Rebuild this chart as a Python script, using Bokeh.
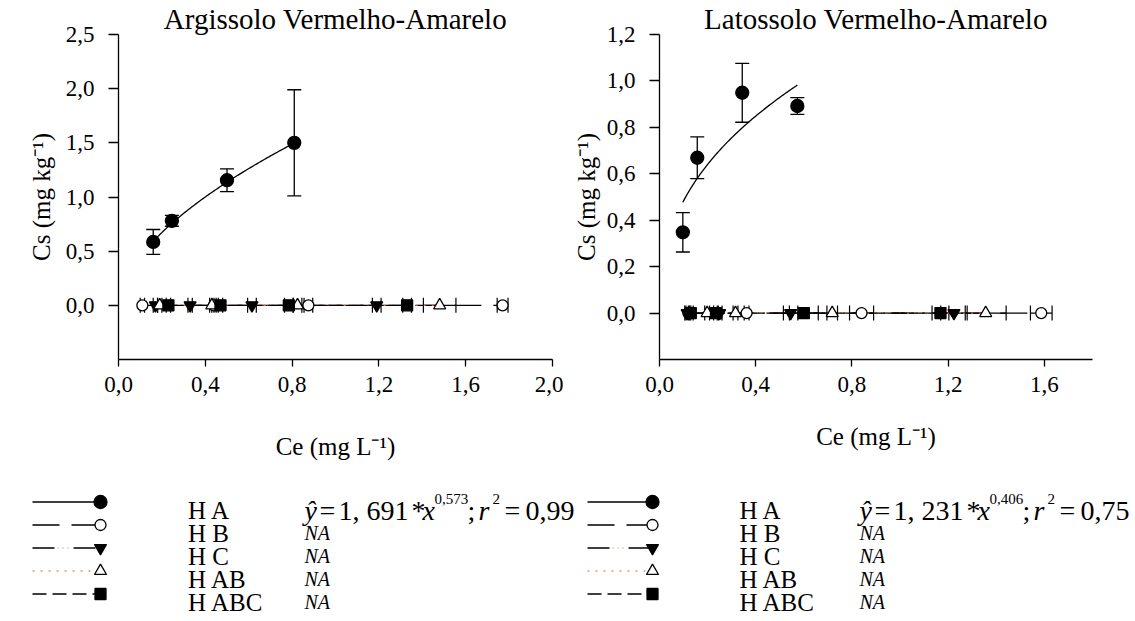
import numpy as np
from bokeh.plotting import figure
from bokeh.layouts import column, row
from bokeh.models import ColumnDataSource, Whisker, TeeHead, Range1d, FixedTicker, CustomJSTickFormatter
from bokeh.core.properties import value
from bokeh.embed import file_html
from bokeh.resources import INLINE

# ---------------- data ----------------
series_names = ["H A", "H B", "H C", "H AB", "H ABC"]
soil_titles = ["Argissolo Vermelho-Amarelo", "Latossolo Vermelho-Amarelo"]

# Argissolo Vermelho-Amarelo
arg_ha_ce = [0.16, 0.246, 0.50, 0.81]
arg_ha_cs = [0.585, 0.78, 1.155, 1.50]
arg_ha_err = [0.115, 0.05, 0.105, 0.49]
arg_hb_ce = [0.11, 0.44, 0.875, 1.77]
arg_hb_cs = [0.0, 0.0, 0.0, 0.0]
arg_hb_xerr = [0.01, 0.01, 0.02, 0.025]
arg_hc_ce = [0.17, 0.33, 0.615, 1.19]
arg_hc_cs = [0.0, 0.0, 0.0, 0.0]
arg_hc_xerr = [0.01, 0.01, 0.02, 0.02]
arg_hab_ce = [0.19, 0.43, 0.825, 1.48]
arg_hab_cs = [0.0, 0.0, 0.0, 0.0]
arg_hab_xerr = [0.01, 0.01, 0.02, 0.075]
arg_habc_ce = [0.23, 0.47, 0.785, 1.33]
arg_habc_cs = [0.0, 0.0, 0.0, 0.0]
arg_habc_xerr = [0.01, 0.01, 0.02, 0.02]
arg_fit_a, arg_fit_b = 1.691, 0.573

# Latossolo Vermelho-Amarelo
lat_ha_ce = [0.097, 0.157, 0.344, 0.573]
lat_ha_cs = [0.348, 0.669, 0.949, 0.892]
lat_ha_err = [0.085, 0.09, 0.127, 0.036]
lat_hb_ce = [0.12, 0.362, 0.84, 1.587]
lat_hb_cs = [0.0, 0.0, 0.0, 0.0]
lat_hb_xerr = [0.01, 0.01, 0.05, 0.045]
lat_hc_ce = [0.115, 0.25, 0.545, 1.224]
lat_hc_cs = [0.0, 0.0, 0.0, 0.0]
lat_hc_xerr = [0.01, 0.01, 0.03, 0.055]
lat_hab_ce = [0.198, 0.316, 0.718, 1.356]
lat_hab_cs = [0.0, 0.0, 0.0, 0.0]
lat_hab_xerr = [0.01, 0.01, 0.022, 0.085]
lat_habc_ce = [0.13, 0.235, 0.60, 1.168]
lat_habc_cs = [0.0, 0.0, 0.0, 0.0]
lat_habc_xerr = [0.01, 0.01, 0.06, 0.035]
lat_fit_a, lat_fit_b = 1.231, 0.406

arg_x_ticks = [0.0, 0.4, 0.8, 1.2, 1.6, 2.0]
arg_y_ticks = [0.0, 0.5, 1.0, 1.5, 2.0, 2.5]
lat_x_ticks = [0.0, 0.4, 0.8, 1.2, 1.6]
lat_y_ticks = [0.0, 0.2, 0.4, 0.6, 0.8, 1.0, 1.2]

eq_texts = [
    ["1, 691", "0,573", "0,99"],
    ["1, 231", "0,406", "0,75"],
]

# ---------------- styles ----------------
FONT = "Liberation Serif"
RED = "#e2603f"
STYLES = {
    "H A":   dict(marker="circle", fill="black", size=13, dash="solid"),
    "H B":   dict(marker="circle", fill="white", size=11, dash="27 12"),
    "H C":   dict(marker="inverted_triangle", fill="black", size=12, dash="22 19"),
    "H AB":  dict(marker="triangle", fill="white", size=12, dash=None),
    "H ABC": dict(marker="square", fill="black", size=11, dash="14 6"),
}

FIG_H = 470
FRAME_TOP = 32
FRAME_BOTTOM = 359

comma = CustomJSTickFormatter(code="return tick.toFixed(1).replace('.', ',');")


def draw_series_line(p, xs, ys, name):
    st = STYLES[name]
    if name == "H AB":
        p.line(xs, ys, line_color=RED, line_width=1.2, line_dash="2 6")
    elif name == "H C":
        p.line(xs, ys, line_color="black", line_width=1.3, line_dash=st["dash"])
        p.line(xs, ys, line_color=RED, line_width=1.2, line_dash="0 25 1 4 1 4 1 5")
    else:
        p.line(xs, ys, line_color="black", line_width=1.3, line_dash=st["dash"])


def draw_marker(p, xs, ys, name):
    st = STYLES[name]
    p.scatter(xs, ys, marker=st["marker"], size=st["size"], fill_color=st["fill"],
              line_color="black", line_width=1.3)


def make_panel(title, width, bl, br, xmax, ymin, ymax, xticks, yticks,
               ha, zeros, fit, ylab_standoff, xlab_standoff):
    p = figure(width=width, height=FIG_H, x_range=Range1d(0, xmax), y_range=Range1d(ymin, ymax),
               output_backend="svg", toolbar_location=None, title=title,
               min_border_left=bl, min_border_right=br, min_border_top=FRAME_TOP,
               min_border_bottom=FIG_H - FRAME_BOTTOM)
    p.title.align = "center"
    p.title.text_font = FONT
    p.title.text_font_size = "29px"
    p.title.text_font_style = "normal"
    p.title.text_color = "black"
    p.title.standoff = 0
    p.grid.visible = False
    p.outline_line_color = None
    p.background_fill_color = "white"
    p.border_fill_color = "white"

    for ax in (p.xaxis[0], p.yaxis[0]):
        ax.axis_line_color = "black"
        ax.axis_line_width = 1.3
        ax.major_tick_line_color = "black"
        ax.major_tick_line_width = 1.3
        ax.major_tick_in = 0
        ax.minor_tick_line_color = None
        ax.major_label_text_font = FONT
        ax.major_label_text_font_size = "23px"
        ax.major_label_text_color = "black"
        ax.axis_label_text_font = FONT
        ax.axis_label_text_font_size = "25px"
        ax.axis_label_text_font_style = "normal"
        ax.axis_label_text_color = "black"
        ax.formatter = comma
    p.xaxis.ticker = FixedTicker(ticks=xticks)
    p.yaxis.ticker = FixedTicker(ticks=yticks)
    p.xaxis.major_tick_out = 7
    p.yaxis.major_tick_out = 10
    p.xaxis.major_label_standoff = 10
    p.yaxis.major_label_standoff = 14
    p.xaxis.axis_label = "Ce (mg L\u207b\u00b9)"
    p.yaxis.axis_label = "Cs (mg kg\u207b\u00b9)"
    p.xaxis.axis_label_standoff = xlab_standoff
    p.yaxis.axis_label_standoff = ylab_standoff

    # lines of zero series
    for name, xs, ys, xerr in zeros:
        draw_series_line(p, xs, ys, name)
    # fitted curve for H A
    ha_x, ha_y, ha_e = ha
    a, b = fit
    cx = np.linspace(min(ha_x), max(ha_x), 120)
    p.line(cx, a * cx ** b, line_color="black", line_width=1.3)

    # error bars
    src = ColumnDataSource(dict(x=ha_x, lo=[v - e for v, e in zip(ha_y, ha_e)],
                                hi=[v + e for v, e in zip(ha_y, ha_e)]))
    p.add_layout(Whisker(source=src, base="x", lower="lo", upper="hi", dimension="height",
                         line_color="black", line_width=1.3,
                         upper_head=TeeHead(size=14, line_width=1.3, line_color="black"),
                         lower_head=TeeHead(size=14, line_width=1.3, line_color="black")))
    for name, xs, ys, xerr in zeros:
        s = ColumnDataSource(dict(y=ys, lo=[v - e for v, e in zip(xs, xerr)],
                                  hi=[v + e for v, e in zip(xs, xerr)]))
        p.add_layout(Whisker(source=s, base="y", lower="lo", upper="hi", dimension="width",
                             line_color="black", line_width=1.2,
                             upper_head=TeeHead(size=15, line_width=1.2, line_color="black"),
                             lower_head=TeeHead(size=15, line_width=1.2, line_color="black")))
    # markers
    for name, xs, ys, xerr in zeros:
        draw_marker(p, xs, ys, name)
    draw_marker(p, ha_x, ha_y, "H A")
    return p


left = make_panel(soil_titles[0], 563, 118, 11, 2.0, -0.5, 2.5, arg_x_ticks, arg_y_ticks,
                  (arg_ha_ce, arg_ha_cs, arg_ha_err),
                  [("H B", arg_hb_ce, arg_hb_cs, arg_hb_xerr),
                   ("H C", arg_hc_ce, arg_hc_cs, arg_hc_xerr),
                   ("H AB", arg_hab_ce, arg_hab_cs, arg_hab_xerr),
                   ("H ABC", arg_habc_ce, arg_habc_cs, arg_habc_xerr)],
                  (arg_fit_a, arg_fit_b), 8, 38)
right = make_panel(soil_titles[1], 572, 96, 43, 1.8, -0.2, 1.2, lat_x_ticks, lat_y_ticks,
                   (lat_ha_ce, lat_ha_cs, lat_ha_err),
                   [("H B", lat_hb_ce, lat_hb_cs, lat_hb_xerr),
                    ("H C", lat_hc_ce, lat_hc_cs, lat_hc_xerr),
                    ("H AB", lat_hab_ce, lat_hab_cs, lat_hab_xerr),
                    ("H ABC", lat_habc_ce, lat_habc_cs, lat_habc_xerr)],
                   (lat_fit_a, lat_fit_b), 4, 28)

# ---------------- legend block ----------------
LEG_TOP = 479
LEG_H = 148
leg = figure(width=1135, height=LEG_H, x_range=Range1d(0, 1135),
             y_range=Range1d(LEG_TOP + LEG_H, LEG_TOP),
             output_backend="svg", toolbar_location=None, min_border=0,
             x_axis_type=None, y_axis_type=None)
leg.grid.visible = False
leg.outline_line_color = None

row_y = [510.5, 533.5, 556.5, 579.5, 602.5]
sides = [dict(l0=32, l1=100, lab=187.5, eq=304), dict(l0=587, l1=652, lab=739, eq=859)]
eq_offsets = [0, 15, 34, 107, 118, 130, 163, 174, 188, 200, 221]

for si, sd in enumerate(sides):
    for ri, name in enumerate(series_names):
        y = row_y[ri]
        draw_series_line(leg, [sd["l0"], sd["l1"]], [y, y], name)
        draw_marker(leg, [sd["l1"]], [y], name)
        leg.text(x=[sd["lab"]], y=[y + 8.5], text=[name], text_font=value(FONT),
                 text_font_size="25px", text_baseline="alphabetic", text_color="black")
        if ri > 0:
            leg.text(x=[sd["eq"]], y=[y + 7.5], text=["NA"], text_font=value(FONT),
                     text_font_size="20px", text_font_style="italic",
                     text_baseline="alphabetic", text_color="black")
    coef, expo, r2 = eq_texts[si]
    pieces = [("\u0177", "italic", 28, 0), ("=", "normal", 28, 0), (coef, "normal", 28, 0),
              ("*", "normal", 28, 0), ("x", "italic", 28, 0), (expo, "normal", 15, 12),
              (";", "normal", 28, 0), ("r", "italic", 28, 0), ("2", "normal", 15, 12),
              ("=", "normal", 28, 0), (r2, "normal", 28, 0)]
    base = row_y[0] + 8.5
    for off, (t, style, size, up) in zip(eq_offsets, pieces):
        leg.text(x=[sd["eq"] + off], y=[base - up], text=[t], text_font=value(FONT),
                 text_font_size=f"{size}px", text_font_style=style,
                 text_baseline="alphabetic", text_color="black")

layout = column(row(left, right), leg)
open("out.html", "w").write(file_html(layout, INLINE, "chart"))
